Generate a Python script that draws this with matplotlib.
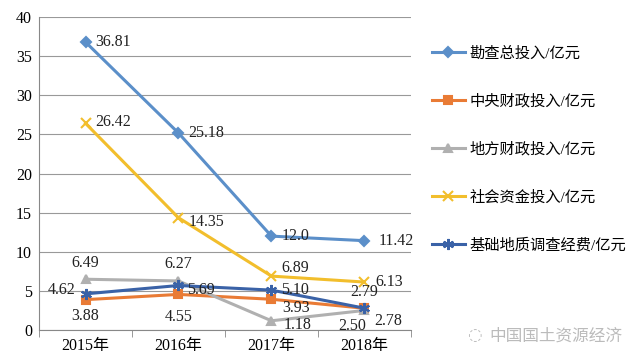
import matplotlib
matplotlib.use("Agg")
import matplotlib.pyplot as plt

plt.rcParams['font.family'] = ['Liberation Serif', 'Noto Sans CJK SC']

years = ['2015年', '2016年', '2017年', '2018年']
total = [36.81, 25.18, 12.0, 11.42]
central = [3.88, 4.55, 3.93, 2.78]
local = [6.49, 6.27, 1.18, 2.50]
social = [26.42, 14.35, 6.89, 6.13]
basic = [4.62, 5.69, 5.10, 2.79]

names = ['勘查总投入/亿元', '中央财政投入/亿元', '地方财政投入/亿元',
         '社会资金投入/亿元', '基础地质调查经费/亿元']
series = [total, central, local, social, basic]
colors = ['#5B8FC9', '#E97B35', '#B0B0B0', '#F2BE2C', '#3A62A7']
markers = ['D', 's', '^', 'x', (6, 2, 0)]
msizes = [5, 6, 6, 7, 8]

# label text for each point and where it sits (offset in points, ha)
labels = [
    ['36.81', '25.18', '12.0', '11.42'],
    ['3.88', '4.55', '3.93', '2.78'],
    ['6.49', '6.27', '1.18', '2.50'],
    ['26.42', '14.35', '6.89', '6.13'],
    ['4.62', '5.69', '5.10', '2.79'],
]
offsets = [
    [(7, 0, 'left'), (7, 0, 'left'), (7, 0, 'left'), (10, 0, 'left')],
    [(0, -12, 'center'), (0, -16, 'center'), (8, -6, 'left'), (7, -9, 'left')],
    [(0, 12, 'center'), (0, 12, 'center'), (9, -3, 'left'), (-9, -11, 'center')],
    [(7, 1, 'left'), (7, -3, 'left'), (7, 6, 'left'), (8, 0, 'left')],
    [(-7, 3, 'right'), (6, -3, 'left'), (7, 0, 'left'), (0, 12, 'center')],
]

fig = plt.figure(figsize=(6.4, 3.64), dpi=100)
ax = fig.add_axes([0.061, 0.0934, 0.581, 0.8596])

x = list(range(len(years)))
for s, name, c, m, ms, labs, offs in zip(series, names, colors, markers, msizes, labels, offsets):
    ax.plot(x, s, color=c, lw=2.2, marker=m, ms=ms, mew=1.5, label=name, zorder=3)
    for xi, yi, lab, (dx, dy, ha) in zip(x, s, labs, offs):
        ax.annotate(lab, (xi, yi), xytext=(dx, dy), textcoords='offset points',
                    ha=ha, va='center', fontsize=11.5, color='#222222', zorder=4)

ax.set_xlim(-0.5, 3.5)
ax.set_ylim(0, 40)
ax.set_yticks(range(0, 41, 5))
ax.set_xticks(x)
ax.set_xticklabels(years, fontsize=11.5)
ax.set_xticks([-0.5, 0.5, 1.5, 2.5, 3.5], minor=True)
ax.tick_params(axis='x', which='major', length=0, pad=6)
ax.tick_params(axis='x', which='minor', length=5, color='#888888')
ax.tick_params(axis='y', length=0, labelsize=11.5, pad=5)
ax.grid(axis='y', color='#999999', lw=0.8)
ax.set_axisbelow(True)
for sp in ['top', 'right']:
    ax.spines[sp].set_visible(False)
ax.spines['left'].set_color('#888888')
ax.spines['bottom'].set_color('#888888')

fig.legend(loc='upper left', bbox_to_anchor=(0.675, 0.873), frameon=False,
           fontsize=11, labelspacing=2.2, handlelength=2.15, handletextpad=0.3,
           borderpad=0, borderaxespad=0)

fig.text(0.765, 0.065, '中国国土资源经济', fontsize=12, color='#BBBBBB',
         family='Noto Sans CJK SC')
fig.text(0.73, 0.065, '◌', fontsize=12, color='#BBBBBB', family='DejaVu Sans')

fig.savefig('out.png', dpi=100)
